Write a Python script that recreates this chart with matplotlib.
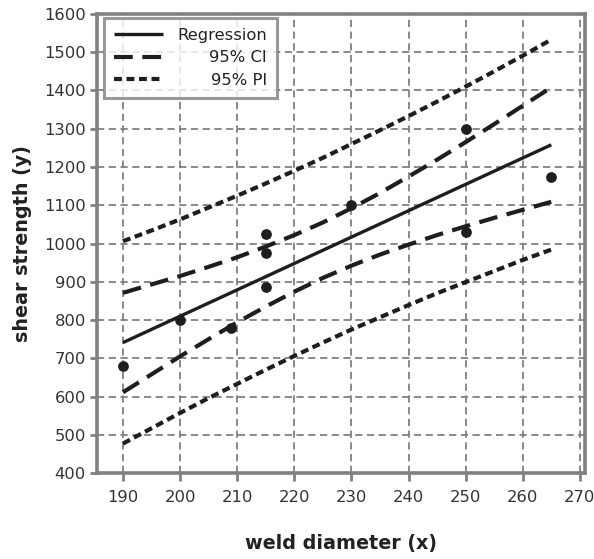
import matplotlib
matplotlib.use("Agg")
import matplotlib.pyplot as plt

# observed data
weld_x = [190, 200, 209, 215, 215, 215, 230, 250, 250, 265]
shear_y = [680, 800, 780, 1025, 975, 885, 1100, 1300, 1030, 1175]

# regression line
reg_x = [190, 265]
reg_y = [741, 1258]

# band curves
band_x = [190, 195, 200, 205, 210, 215, 220, 225, 230, 235, 240, 245, 250, 255, 260, 265]
ci_lower = [611, 658, 705, 750, 794, 835, 874, 910, 942, 971, 997, 1022, 1045, 1067, 1088, 1109]
ci_upper = [871, 893, 915, 939, 964, 992, 1022, 1055, 1092, 1132, 1175, 1219, 1265, 1312, 1360, 1408]
pi_lower = [477, 517, 557, 596, 633, 670, 706, 741, 775, 807, 839, 870, 899, 928, 957, 984]
pi_upper = [1006, 1034, 1063, 1094, 1125, 1157, 1190, 1224, 1260, 1296, 1333, 1371, 1410, 1450, 1491, 1533]

x_ticks = [190, 200, 210, 220, 230, 240, 250, 260, 270]
y_ticks = [400, 500, 600, 700, 800, 900, 1000, 1100, 1200, 1300, 1400, 1500, 1600]

plt.rcParams['font.family'] = ['DejaVu Sans']

fig = plt.figure(figsize=(5.94, 5.59), dpi=100)
ax = fig.add_axes([0.1633, 0.1538, 0.8215, 0.8212])

grey = '#808080'
ink = '#1e1e1e'

ax.set_xlim(185.45, 270.9)
ax.set_ylim(400, 1600)
ax.set_xticks(x_ticks)
ax.set_yticks(y_ticks)
ax.grid(True, color=grey, linestyle=(0, (4, 2.5)), linewidth=1.3)
ax.set_axisbelow(True)

for s in ax.spines.values():
    s.set_color(grey)
    s.set_linewidth(2.6)

ax.tick_params(axis='both', colors=grey, width=2.0, length=5, labelcolor='#333333', labelsize=11.8)
ax.tick_params(axis='x', length=6, pad=6)
ax.tick_params(axis='y', pad=3)

ax.plot(reg_x, reg_y, color=ink, linewidth=2.4, solid_capstyle='butt', label='Regression')
ax.plot(band_x, ci_upper, color=ink, linewidth=3.0, linestyle=(0, (4.5, 2.3)), label='95% CI')
ax.plot(band_x, ci_lower, color=ink, linewidth=3.0, linestyle=(0, (4.5, 2.3)))
ax.plot(band_x, pi_upper, color=ink, linewidth=3.0, linestyle=(0, (1.9, 1.1)), label='95% PI')
ax.plot(band_x, pi_lower, color=ink, linewidth=3.0, linestyle=(0, (1.9, 1.1)))
ax.scatter(weld_x, shear_y, s=45, color=ink, zorder=5)

leg = ax.legend(loc='upper left', bbox_to_anchor=(0.0143, 0.991), fontsize=11.8,
                frameon=True, fancybox=False, handlelength=3.0, borderpad=0.6,
                labelspacing=0.45, handletextpad=1.0, borderaxespad=0)
leg.get_frame().set_edgecolor(grey)
leg.get_frame().set_linewidth(2.2)
for t in leg.get_texts():
    t.set_color('#222222')
# right-align the labels: stretch each entry to a common width
for col in leg._legend_handle_box.get_children():
    for item in col.get_children():
        item.mode = 'expand'
        item.width = 153

ax.set_xlabel('weld diameter (x)', fontsize=13.8, fontweight='bold', color='#222222', labelpad=21)
ax.set_ylabel('shear strength (y)', fontsize=13.8, fontweight='bold', color='#222222', labelpad=9)

fig.savefig('out.png', dpi=100)
